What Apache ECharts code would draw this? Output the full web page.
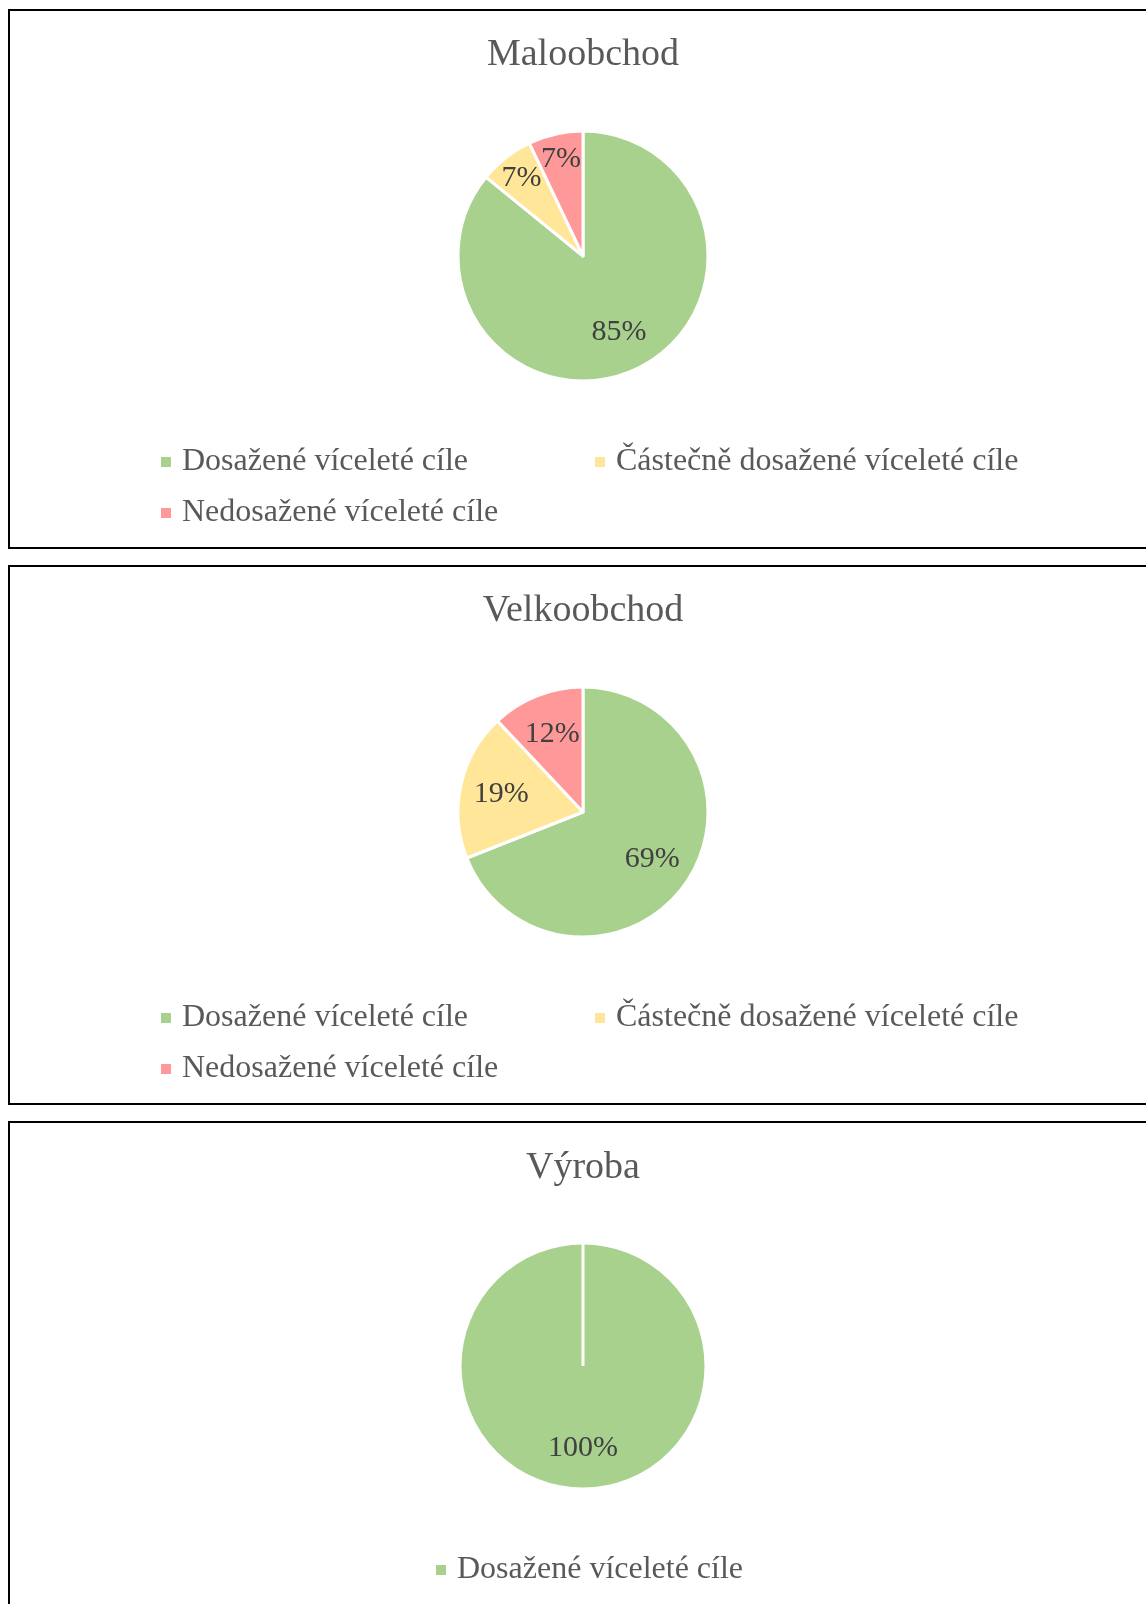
<!DOCTYPE html>
<html><head><meta charset="utf-8">
<script src="https://cdn.jsdelivr.net/npm/echarts@6/dist/echarts.min.js"></script>
<style>
html,body{margin:0;padding:0;background:#fff}
body{width:1146px;height:1604px;overflow:hidden;position:relative}
.panel{position:absolute;left:8px;width:1150px;height:540px;border:2px solid #000;box-sizing:border-box;background:#fff}
</style></head><body>
<div id="c1" class="panel" style="top:9px"></div>
<div id="c2" class="panel" style="top:565px"></div>
<div id="c3" class="panel" style="top:1121px"></div>
<script>
const titles = ['Maloobchod', 'Velkoobchod', 'Výroba'];
const categories = ['Dosažené víceleté cíle', 'Částečně dosažené víceleté cíle', 'Nedosažené víceleté cíle'];
const maloobchodValues = [85, 7, 7];
const velkoobchodValues = [69, 19, 12];
const vyrobaValues = [100];
const colors = ['#A9D18E', '#FFE699', '#FF9999'];

const FONT = "'Liberation Serif', 'Times New Roman', serif";

function build(id, title, values, cfg) {
  const chart = echarts.init(document.getElementById(id), null, {renderer: 'canvas'});
  const W = chart.getWidth();
  const cx = W / 2, cy = cfg.cy, R = cfg.r;
  const total = values.reduce((a, b) => a + b, 0);
  const data = values.map((v, i) => ({name: categories[i], value: v, itemStyle: {color: colors[i]}}));
  const legends = cfg.legends.map(l => ({
    data: [categories[l.i]],
    left: l.left, top: l.cy - 18,
    padding: 0,
    icon: 'rect', itemWidth: 10, itemHeight: 10,
    itemStyle: {borderWidth: 0},
    selectedMode: false,
    textStyle: {fontFamily: FONT, fontSize: 32, color: '#595959', lineHeight: 36, padding: [0, 0, 0, 6]}
  }));
  const option = {
    animation: false,
    title: {
      text: title, left: 'center', top: cfg.titleTop, padding: 0,
      textStyle: {fontFamily: FONT, fontSize: 38, fontWeight: 'normal', color: '#595959', lineHeight: 44}
    },
    legend: legends,
    series: [{
      type: 'pie',
      center: ['50%', cy],
      radius: R,
      startAngle: 90,
      clockwise: true,
      silent: true,
      emphasis: {disabled: true},
      itemStyle: {borderColor: '#ffffff', borderWidth: 3},
      label: {
        show: true, position: 'inside',
        formatter: p => p.value + '%',
        fontFamily: FONT, fontSize: 30, color: '#404040'
      },
      labelLine: {show: false},
      labelLayout: function (p) {
        const v = values[p.dataIndex];
        const frac = v / total < 0.1 ? 0.76 : 0.64;
        const lr = p.labelRect;
        const lx = lr.x + lr.width / 2, ly = lr.y + lr.height / 2;
        const k = frac / 0.5;
        return {x: cx + (lx - cx) * k, y: cy + (ly - cy) * k, align: 'center', verticalAlign: 'middle'};
      },
      data: data
    }],
    graphic: cfg.seam ? [{
      type: 'line', z: 100, silent: true,
      shape: {x1: cx, y1: cy - R, x2: cx, y2: cy},
      style: {stroke: '#ffffff', lineWidth: 3}
    }] : []
  };
  chart.setOption(option);
}

build('c1', titles[0], maloobchodValues, {
  cy: 245, r: 125, titleTop: 22,
  legends: [{i: 0, left: 151, cy: 451}, {i: 1, left: 585, cy: 451}, {i: 2, left: 151, cy: 502}]
});
build('c2', titles[1], velkoobchodValues, {
  cy: 245, r: 125, titleTop: 22,
  legends: [{i: 0, left: 151, cy: 451}, {i: 1, left: 585, cy: 451}, {i: 2, left: 151, cy: 502}]
});
build('c3', titles[2], vyrobaValues, {
  cy: 243, r: 123, seam: true, titleTop: 23,
  legends: [{i: 0, left: 426, cy: 447}]
});
</script>
</body></html>
